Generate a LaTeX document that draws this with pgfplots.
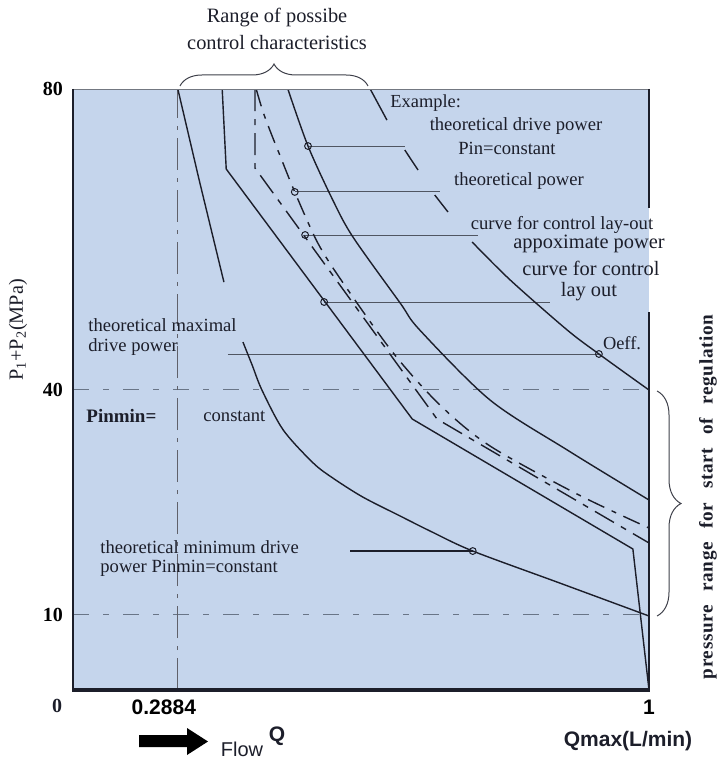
\documentclass[border=0pt]{standalone}
\usepackage{fontspec}
\setmainfont{Liberation Serif}
\newfontfamily\lsans{Liberation Sans}
\newfontfamily\spacedserif[LetterSpace=3]{Liberation Serif}
\usepackage{pgfplots}
\pgfplotsset{compat=1.18}
\usetikzlibrary{decorations.pathreplacing}
\definecolor{bgblue}{RGB}{197,213,236}
\definecolor{curve}{RGB}{28,30,42}
\definecolor{refgray}{RGB}{105,117,135}
\definecolor{leadgray}{RGB}{80,86,98}
\begin{document}
\begin{tikzpicture}[x=0.5pt,y=0.5pt]
\useasboundingbox (0,0) rectangle (716,-758);
\begin{axis}[
  at={(36.5pt,-345pt)}, anchor=south west,
  scale only axis, width=288pt, height=300.5pt,
  xmin=0, xmax=1, ymin=0, ymax=80,
  axis background/.style={fill=bgblue},
  axis line style={draw=none},
  xtick={0.182,1}, xticklabels={{\hspace*{-14pt}0.2884},1},
  ytick={10,40,80}, yticklabels={10,40,80},
  major tick length=0pt,
  yticklabel style={font=\bfseries\fontsize{10}{12}\selectfont, xshift=-1.5pt},
  xticklabel style={font=\lsans\bfseries\fontsize{10.5}{12}\selectfont, yshift=-1.5pt},
]
% reference lines
\addplot[refgray, line width=0.5pt, dash pattern=on 8pt off 7pt on 3pt off 7pt] coordinates {(0,40) (1,40)};
\addplot[refgray, line width=0.5pt, dash pattern=on 8pt off 7pt on 3pt off 7pt] coordinates {(0,10) (1,10)};
\addplot[curve!70, line width=0.45pt, dash pattern=on 16pt off 4pt on 2pt off 4pt] coordinates {(0.182,0) (0.182,80)};
% leader lines
\addplot[leadgray, line width=0.45pt] coordinates {(0.408,72.41) (0.576,72.41)};
\addplot[leadgray, line width=0.45pt] coordinates {(0.385,66.3) (0.637,66.3)};
\addplot[leadgray, line width=0.45pt] coordinates {(0.403,60.57) (0.703,60.57)};
\addplot[leadgray, line width=0.45pt] coordinates {(0.436,51.65) (0.828,51.65)};
\addplot[leadgray, line width=0.45pt] coordinates {(0.269,44.73) (0.913,44.73)};
\addplot[curve, line width=0.6pt] coordinates {(0.481,18.50) (0.694,18.50)};
% curve A
\addplot[curve, line width=0.7pt] coordinates {(0.182,80) (0.219,67.9) (0.262,54.3)};
% curve B (kinked)
\addplot[curve, line width=0.7pt] coordinates {(0.259,80) (0.266,69.35) (0.589,36.07) (0.972,18.77) (1,0)};
% curve C
\addplot[curve, line width=0.7pt, smooth] coordinates {(0.373,80) (0.408,72.41) (0.451,65.22) (0.486,60.30) (0.568,51.51) (0.602,47.92) (0.724,38.60) (0.858,31.95) (1,25.29)};
% curve D (example: Pin = constant)
\addplot[curve, line width=0.7pt] coordinates {(0.516,80) (0.545,75.87)};
\addplot[curve, line width=0.7pt] coordinates {(0.576,71.88) (0.599,69.22)};
\addplot[curve, line width=0.7pt] coordinates {(0.628,65.89) (0.651,63.63)};
\addplot[curve, line width=0.7pt, smooth] coordinates {(0.693,59.63) (0.759,54.58) (0.858,47.92) (0.913,44.73) (1,39.93)};
% curve E (control lay-out, kinked, dashed)
\addplot[curve, line width=0.7pt, dash pattern=on 11pt off 4pt on 3pt off 4pt] coordinates {(0.316,80) (0.316,69.48) (0.632,36.07) (1,19.57)};
% curve F (theoretical power, dash-dot)
\addplot[curve, line width=0.7pt, smooth, dash pattern=on 9pt off 4pt on 2.5pt off 4pt] coordinates {(0.318,80) (0.330,76.94) (0.345,73.88) (0.359,71.21) (0.385,66.29) (0.425,59.50) (0.469,54.18) (0.556,44.86) (0.637,37.94) (0.724,32.48) (0.875,26.09) (1,21.56)};
% curve G (minimum drive power)
\addplot[curve, line width=0.7pt, smooth] coordinates {(0.295,46.32) (0.311,43.26) (0.328,39.93) (0.365,34.61) (0.417,30.22) (0.451,28.22) (0.503,25.69) (0.568,23.16) (0.620,21.16) (0.694,18.50) (0.845,14.24) (1,9.85)};
% marker circles
\addplot[only marks, mark=o, mark size=1.7pt, mark options={curve, line width=0.5pt}] coordinates {(0.408,72.41) (0.385,66.3) (0.403,60.57) (0.436,51.65) (0.913,44.73) (0.694,18.50)};
\end{axis}
% frame
\draw[leadgray!80, line width=0.45pt] (73,-89) -- (649,-89);
\draw[curve, line width=0.6pt] (73,-89) -- (73,-690);
\draw[curve, line width=1.6pt] (72,-690) -- (650,-690);
\draw[curve, line width=0.6pt] (649,-89) -- (649,-208);
\draw[curve, line width=0.6pt] (649,-312) -- (649,-690);
% braces
\draw[curve!85, line width=0.5pt, decorate, decoration={brace, amplitude=11pt}] (180,-86) -- (368,-86);
\draw[curve!85, line width=0.5pt, decorate, decoration={brace, amplitude=12pt}] (657,-391) -- (657,-616);
% texts
\begin{scope}[every node/.style={inner sep=0pt, text=curve}]
\node[font=\fontsize{10.2}{12}\selectfont] at (277,-18) {Range of possibe};
\node[font=\fontsize{10.2}{12}\selectfont] at (277,-43) {control characteristics};
\node[font=\fontsize{9.2}{11}\selectfont, anchor=west] at (390,-103) {Example:};
\node[font=\fontsize{9.3}{11}\selectfont] at (516,-126) {theoretical drive power};
\node[font=\fontsize{9.3}{11}\selectfont] at (507,-148) {Pin=constant};
\node[font=\fontsize{9.3}{11}\selectfont] at (519,-181) {theoretical power};
\node[font=\fontsize{9.3}{11}\selectfont] at (562,-225) {curve for control lay-out};
\node[font=\fontsize{10.2}{12}\selectfont] at (589,-244) {appoximate power};
\node[font=\fontsize{10.2}{12}\selectfont] at (591,-268) {curve for control};
\node[font=\fontsize{10.2}{12}\selectfont] at (589,-292) {lay out};
\node[font=\fontsize{9.2}{11}\selectfont] at (622,-343) {Oeff.};
\node[font=\fontsize{9.3}{10}\selectfont, anchor=north west, align=left] at (88,-318) {theoretical maximal\\drive power};
\node[font=\bfseries\fontsize{9.5}{11}\selectfont, anchor=west] at (86,-416) {Pinmin=};
\node[font=\fontsize{9.3}{11}\selectfont, anchor=west] at (203,-416) {constant};
\node[font=\fontsize{9.3}{9.5}\selectfont, anchor=north west, align=left] at (100,-540) {theoretical minimum drive\\power Pinmin=constant};
\node[font=\fontsize{10.1}{12}\selectfont, rotate=90] at (18,-330) {P\textsubscript{1}+P\textsubscript{2}(MPa)};
\node[font=\spacedserif\bfseries\fontsize{9.6}{11}\selectfont, rotate=90] at (708,-497) {\makebox[182pt][s]{pressure range for start of regulation}};
\node[font=\bfseries\fontsize{10}{12}\selectfont] at (57,-706) {0};
\fill[black] (139,-735) -- (187,-735) -- (187,-728) -- (208,-741.5) -- (187,-755) -- (187,-747) -- (139,-747) -- cycle;
\node[font=\lsans\fontsize{10}{12}\selectfont] at (242,-749) {Flow};
\node[font=\lsans\bfseries\fontsize{10.5}{12}\selectfont] at (277,-736) {Q};
\node[font=\lsans\bfseries\fontsize{10.5}{12}\selectfont] at (628,-741) {Qmax(L/min)};
\end{scope}
\end{tikzpicture}
\end{document}
